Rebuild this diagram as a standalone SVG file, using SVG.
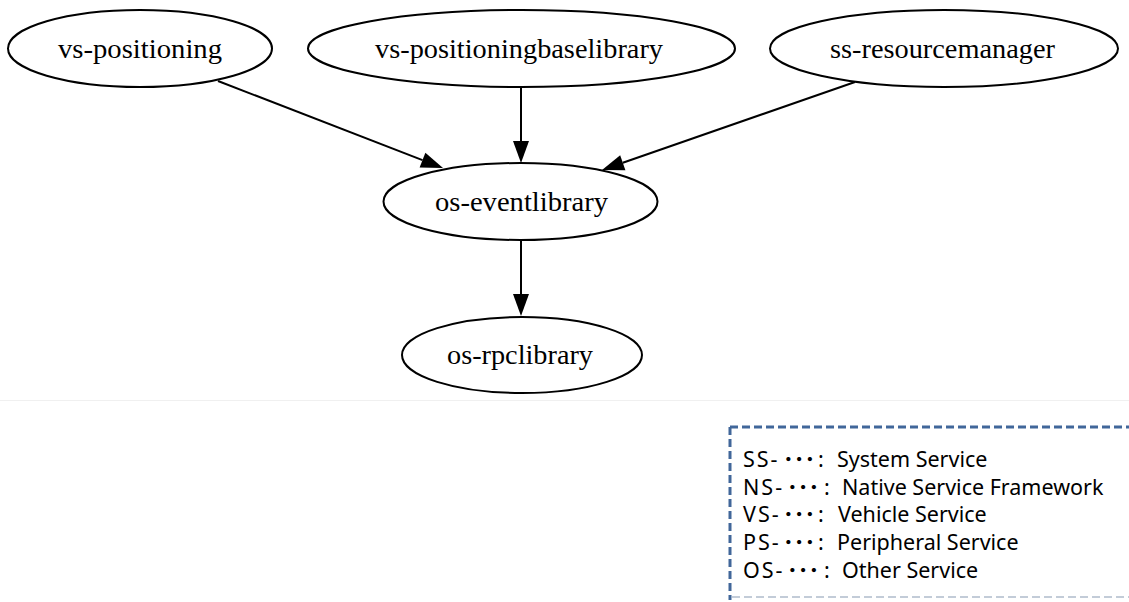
<svg xmlns="http://www.w3.org/2000/svg" width="1129" height="602" viewBox="0 0 1129 602">
  <style>
    .node ellipse { fill: #ffffff; stroke: #000000; stroke-width: 2; }
    .node text { font-family: "Liberation Serif", "Times New Roman", serif; font-size: 27px; fill: #000000; text-anchor: middle; }
    .edge { stroke: #000000; stroke-width: 2; fill: none; marker-end: url(#arrow); }
    .legend text { font-family: "Noto Sans", "Noto Sans CJK KR", sans-serif; font-size: 21.5px; fill: #000000; }
    .legend .prefix { letter-spacing: 2px; }
    .legend .dots { font-weight: bold; }
    .frame { stroke: #41679a; stroke-width: 3; stroke-dasharray: 8 4; fill: none; }
    .frame-bottom { stroke: #c3ccd8; stroke-width: 2; stroke-dasharray: 8 4; fill: none; }
  </style>
  <defs>
    <marker id="arrow" viewBox="0 0 22 16" refX="0" refY="8" markerWidth="22" markerHeight="16" markerUnits="userSpaceOnUse" orient="auto" overflow="visible">
      <path d="M0,0 L22,8 L0,16 Z" fill="#000000"/>
    </marker>
  </defs>
  <rect x="0" y="0" width="1129" height="602" fill="#ffffff"/>
  <!-- faint separator under the graph -->
  <line x1="0" y1="400.5" x2="1129" y2="400.5" stroke="#f0f0f0" stroke-width="1"/>

  <g id="edges">
    <line class="edge" x1="218" y1="81" x2="422.5" y2="160.1"/>
    <line class="edge" x1="521" y1="87" x2="521" y2="141"/>
    <line class="edge" x1="855" y1="82" x2="622.8" y2="162.8"/>
    <line class="edge" x1="521" y1="240" x2="521" y2="294"/>
  </g>

  <g id="vs-positioning" class="node">
    <ellipse cx="140" cy="48.5" rx="132" ry="38.5"/>
    <text x="140" y="58" textLength="164" lengthAdjust="spacingAndGlyphs">vs-positioning</text>
  </g>
  <g id="vs-positioningbaselibrary" class="node">
    <ellipse cx="521.5" cy="48.5" rx="213.5" ry="38.5"/>
    <text x="519" y="58" textLength="288" lengthAdjust="spacingAndGlyphs">vs-positioningbaselibrary</text>
  </g>
  <g id="ss-resourcemanager" class="node">
    <ellipse cx="944" cy="48.5" rx="174" ry="38.5"/>
    <text x="942.5" y="58" textLength="225" lengthAdjust="spacingAndGlyphs">ss-resourcemanager</text>
  </g>
  <g id="os-eventlibrary" class="node">
    <ellipse cx="520.5" cy="201.5" rx="137" ry="38.5"/>
    <text x="521.5" y="210.5" textLength="173" lengthAdjust="spacingAndGlyphs">os-eventlibrary</text>
  </g>
  <g id="os-rpclibrary" class="node">
    <ellipse cx="522" cy="355" rx="120" ry="38"/>
    <text x="520" y="364" textLength="146" lengthAdjust="spacingAndGlyphs">os-rpclibrary</text>
  </g>

  <g id="legend" class="legend">
    <line class="frame" x1="730" y1="427" x2="1129" y2="427"/>
    <line class="frame" x1="730" y1="427" x2="730" y2="600"/>
    <line class="frame-bottom" x1="732" y1="597" x2="1129" y2="597"/>
    <text x="743" y="467"><tspan class="prefix">SS-</tspan><tspan class="dots" x="783">･･･</tspan><tspan x="818">:</tspan><tspan x="837">System Service</tspan></text>
    <text x="743" y="495"><tspan class="prefix">NS-</tspan><tspan class="dots" x="787">･･･</tspan><tspan x="824">:</tspan><tspan x="842">Native Service Framework</tspan></text>
    <text x="743" y="522"><tspan class="prefix">VS-</tspan><tspan class="dots" x="783">･･･</tspan><tspan x="818">:</tspan><tspan x="838">Vehicle Service</tspan></text>
    <text x="743" y="550"><tspan class="prefix">PS-</tspan><tspan class="dots" x="783">･･･</tspan><tspan x="818">:</tspan><tspan x="837">Peripheral Service</tspan></text>
    <text x="743" y="578"><tspan class="prefix">OS-</tspan><tspan class="dots" x="787">･･･</tspan><tspan x="824">:</tspan><tspan x="842">Other Service</tspan></text>
  </g>
</svg>
